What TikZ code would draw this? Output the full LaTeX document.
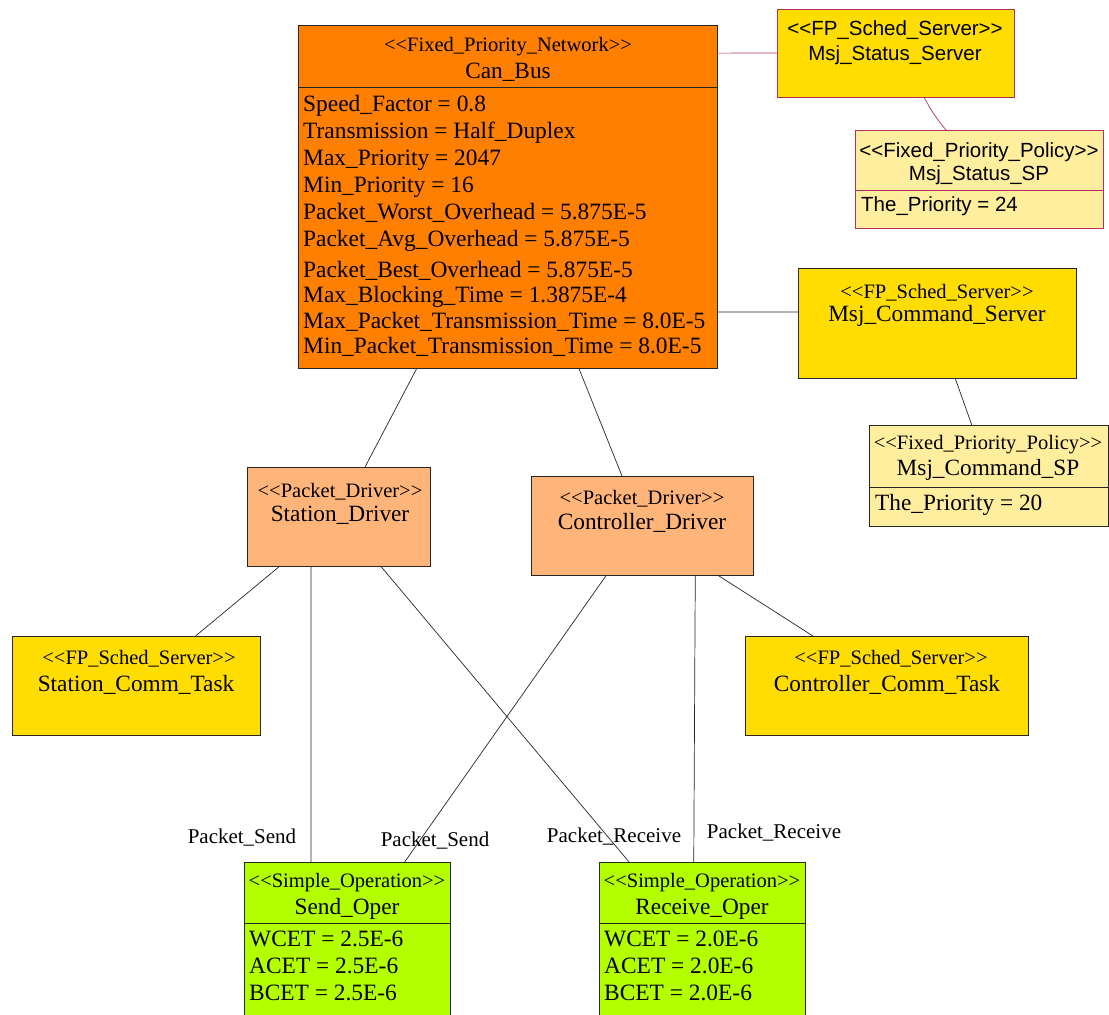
\documentclass[tikz,border=0pt]{standalone}
\usepackage{fontspec}
\setmainfont{Liberation Serif}
\newfontfamily\arialfont{Liberation Sans}
\usetikzlibrary{calc}

\definecolor{busorange}{HTML}{FF7F00}
\definecolor{drvorange}{HTML}{FFB47A}
\definecolor{servgold}{HTML}{FFDD00}
\definecolor{polyellow}{HTML}{FFEE9E}
\definecolor{opgreen}{HTML}{B3FF00}
\definecolor{statred}{HTML}{B5305E}
\newcommand{\stype}[1]{{<}{<}#1{>}{>}}

\tikzset{
  umlbox/.style={draw=black!85, line width=0.8pt, anchor=north west, inner sep=0pt, outer sep=0pt},
  stereo/.style={inner sep=0pt, yshift=-2pt, font=\fontsize{20.5}{24}\selectfont},
  title/.style={inner sep=0pt, yshift=-1pt, font=\fontsize{23.3}{27}\selectfont},
  sanstext/.style={inner sep=0pt, yshift=-1.5pt, font=\arialfont\fontsize{20.5}{24}\selectfont},
  attrs/.style={anchor=north west, align=left, inner sep=0pt, font=\fontsize{23.4}{27}\selectfont},
  link/.style={draw=black!85, line width=0.7pt},
  statlink/.style={draw=statred, line width=0.7pt},
  lbl/.style={inner sep=0pt, font=\fontsize{21}{24}\selectfont},
}

\begin{document}
\begin{tikzpicture}[x=1pt, y=-1pt]
\useasboundingbox (0,0) rectangle (1109,1015);

% boxes
\node[umlbox, fill=busorange, minimum width=419pt, minimum height=343pt] (cbus) at (298,25) {};
\node[umlbox, draw=statred, fill=servgold, minimum width=237pt, minimum height=88pt] (mss) at (777,9) {};
\node[umlbox, draw=statred, fill=polyellow, minimum width=248pt, minimum height=98pt] (mssp) at (855,130) {};
\node[umlbox, fill=servgold, minimum width=278pt, minimum height=110pt] (mcs) at (798,268) {};
\node[umlbox, fill=polyellow, minimum width=239pt, minimum height=101pt] (mcsp) at (869,425) {};
\node[umlbox, fill=drvorange, minimum width=183pt, minimum height=99pt] (sdrv) at (247,467) {};
\node[umlbox, fill=drvorange, minimum width=222pt, minimum height=99pt] (cdrv) at (531,476) {};
\node[umlbox, fill=servgold, minimum width=248pt, minimum height=99pt] (sct) at (12,636) {};
\node[umlbox, fill=servgold, minimum width=283pt, minimum height=99pt] (cct) at (745,636) {};
\node[umlbox, fill=opgreen, minimum width=206pt, minimum height=170pt] (sop) at (244,862) {};
\node[umlbox, fill=opgreen, minimum width=206pt, minimum height=170pt] (rop) at (599,862) {};

% compartment lines
\draw[black!85, line width=0.8pt] ($(cbus.north west)+(0,62)$) -- ($(cbus.north east)+(0,62)$);
\draw[statred, line width=0.8pt] ($(mssp.north west)+(0,60)$) -- ($(mssp.north east)+(0,60)$);
\draw[black!85, line width=0.8pt] ($(mcsp.north west)+(0,62)$) -- ($(mcsp.north east)+(0,62)$);
\draw[black!85, line width=0.8pt] ($(sop.north west)+(0,61)$) -- ($(sop.north east)+(0,61)$);
\draw[black!85, line width=0.8pt] ($(rop.north west)+(0,61)$) -- ($(rop.north east)+(0,61)$);

% texts
\node[stereo] (cbusst) at (508,45) {\stype{Fixed\_Priority\_Network}};
\node[title] (cbusname) at (508,71) {Can\_Bus};
\node[attrs] (cbusattr) at (303,95) {Speed\_Factor = 0.8\\
  Transmission = Half\_Duplex\\
  Max\_Priority = 2047\\
  Min\_Priority = 16\\
  Packet\_Worst\_Overhead = 5.875E-5\\
  Packet\_Avg\_Overhead = 5.875E-5\\[4pt]
  Packet\_Best\_Overhead = 5.875E-5\\[-2pt]
  Max\_Blocking\_Time = 1.3875E-4\\[-1pt]
  Max\_Packet\_Transmission\_Time = 8.0E-5\\[-2pt]
  Min\_Packet\_Transmission\_Time = 8.0E-5};

\node[sanstext] (mssst) at (895,29) {\stype{FP\_Sched\_Server}};
\node[sanstext] (mssname) at (895,54) {Msj\_Status\_Server};
\node[sanstext] (msspst) at (979,151) {\stype{Fixed\_Priority\_Policy}};
\node[sanstext] (msspname) at (979,174) {Msj\_Status\_SP};
\node[sanstext, anchor=west] (msspattr) at (861,205) {The\_Priority = 24};

\node[stereo] (mcsst) at (937,291) {\stype{FP\_Sched\_Server}};
\node[title] (mcsname) at (937,315) {Msj\_Command\_Server};
\node[stereo] (mcspst) at (988,443) {\stype{Fixed\_Priority\_Policy}};
\node[title] (mcspname) at (988,469) {Msj\_Command\_SP};
\node[title, anchor=west] (mcspattr) at (875,504) {The\_Priority = 20};

\node[stereo] (sdrvst) at (340,490) {\stype{Packet\_Driver}};
\node[title] (sdrvname) at (340,514) {Station\_Driver};
\node[stereo] (cdrvst) at (642,497) {\stype{Packet\_Driver}};
\node[title] (cdrvname) at (642,522) {Controller\_Driver};

\node[stereo] (sctst) at (139,657) {\stype{FP\_Sched\_Server}};
\node[title] (sctname) at (136,684) {Station\_Comm\_Task};
\node[stereo] (cctst) at (891,657) {\stype{FP\_Sched\_Server}};
\node[title] (cctname) at (887,684) {Controller\_Comm\_Task};

\node[stereo] (sopst) at (347,881) {\stype{Simple\_Operation}};
\node[title] (sopname) at (347,908) {Send\_Oper};
\node[attrs] (sopattr) at (249,931) {WCET = 2.5E-6\\ ACET = 2.5E-6\\ BCET = 2.5E-6};
\node[stereo] (ropst) at (702,881) {\stype{Simple\_Operation}};
\node[title] (ropname) at (702,908) {Receive\_Oper};
\node[attrs] (ropattr) at (604,931) {WCET = 2.0E-6\\ ACET = 2.0E-6\\ BCET = 2.0E-6};

% connectors
\draw[statlink] ($(cbus.north east)!.082!(cbus.south east)$) -- (mss.west);
\draw[statlink] ($(mss.south west)!.62!(mss.south east)$) to[bend right=6] ($(mssp.north west)!.367!(mssp.north east)$);
\draw[link] ($(cbus.north east)!.837!(cbus.south east)$) -- ($(mcs.north west)!.4!(mcs.south west)$);
\draw[link] ($(mcs.south west)!.565!(mcs.south east)$) -- ($(mcsp.north west)!.43!(mcsp.north east)$);
\draw[link] ($(cbus.south west)!.284!(cbus.south east)$) -- ($(sdrv.north west)!.645!(sdrv.north east)$);
\draw[link] ($(cbus.south west)!.67!(cbus.south east)$) -- ($(cdrv.north west)!.41!(cdrv.north east)$);
\draw[link] ($(sdrv.south west)!.18!(sdrv.south east)$) -- ($(sct.north west)!.74!(sct.north east)$);
\draw[link] ($(sdrv.south west)!.35!(sdrv.south east)$) -- ($(sop.north west)!.325!(sop.north east)$);
\draw[link] ($(sdrv.south west)!.73!(sdrv.south east)$) -- ($(rop.north west)!.146!(rop.north east)$);
\draw[link] ($(cdrv.south west)!.34!(cdrv.south east)$) -- ($(sop.north west)!.78!(sop.north east)$);
\draw[link] ($(cdrv.south west)!.74!(cdrv.south east)$) -- ($(rop.north west)!.46!(rop.north east)$);
\draw[link] ($(cdrv.south west)!.84!(cdrv.south east)$) -- ($(cct.north west)!.24!(cct.north east)$);

% role labels
\node[lbl] (sendlbla) at (242,838) {Packet\_Send};
\node[lbl] (sendlblb) at (435,841) {Packet\_Send};
\node[lbl] (recvlbla) at (614,837) {Packet\_Receive};
\node[lbl] (recvlblb) at (774,833) {Packet\_Receive};
\end{tikzpicture}
\end{document}
